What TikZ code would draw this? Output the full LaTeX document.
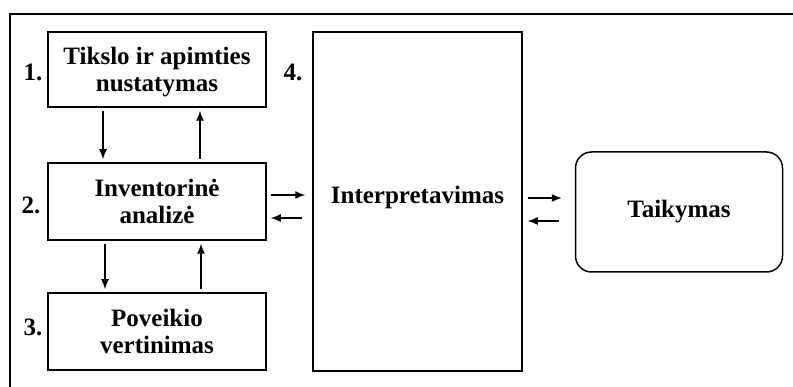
\documentclass[tikz,border=0pt]{standalone}
\usepackage{fontspec}
\setmainfont{Liberation Serif}
\usetikzlibrary{arrows.meta}
\begin{document}
\begin{tikzpicture}[x=1pt,y=-1pt,
    every node/.style={font=\fontsize{25}{27}\selectfont\bfseries},
    stepbox/.style={draw,line width=1.5,align=center,inner sep=0pt},
    arr/.style={line width=1.4,-{Latex[length=10,width=8]}}]
  \useasboundingbox (0,0) rectangle (793,387);
  % frame
  \draw[line width=1.6] (10,387) -- (10,14) -- (793,14);
  \node[stepbox,minimum width=218,minimum height=75,text depth=-14] (tikslas) at (157,69.5)
    {Tikslo ir apimties\\nustatymas};
  \node[stepbox,minimum width=218,minimum height=77,text depth=-14] (inventorine) at (157,201.5)
    {Inventorinė\\analizė};
  \node[stepbox,minimum width=218,minimum height=77] (poveikis) at (157,331.5)
    {Poveikio\\vertinimas};
  \node[stepbox,minimum width=209,minimum height=339] (interp) at (417.5,201.5) {};
  \node (interptxt) at (417.5,197) {Interpretavimas};
  \node[stepbox,rounded corners=16,minimum width=207,minimum height=120] (taikymas)
    at (679,212) {Taikymas};
  \node (n1) at (33,72) {1.};
  \node (n2) at (31,205) {2.};
  \node (n3) at (33,327) {3.};
  \node (n4) at (293,72) {4.};
  \begin{scope}[arr,shorten <=3,shorten >=3]
    \draw ([xshift=-54]tikslas.south) -- ([xshift=-54]inventorine.north);
    \draw ([xshift=43]inventorine.north) -- ([xshift=43]tikslas.south);
    \draw ([xshift=-52]inventorine.south) -- ([xshift=-52]poveikis.north);
    \draw ([xshift=44]poveikis.north) -- ([xshift=44]inventorine.south);
  \end{scope}
  \draw[arr,shorten <=4,shorten >=7] ([yshift=6.5]inventorine.east)
    -- ([yshift=6.5]inventorine.east -| interp.west);
  \draw[arr,shorten <=10,shorten >=4] ([yshift=-16.5]inventorine.east -| interp.west)
    -- ([yshift=-16.5]inventorine.east);
  \draw[arr,shorten <=5,shorten >=13] ([yshift=3.5]interp.east)
    -- ([yshift=3.5]interp.east -| taikymas.west);
  \draw[arr,shorten <=16,shorten >=5] ([yshift=-19.5]interp.east -| taikymas.west)
    -- ([yshift=-19.5]interp.east);
\end{tikzpicture}
\end{document}
